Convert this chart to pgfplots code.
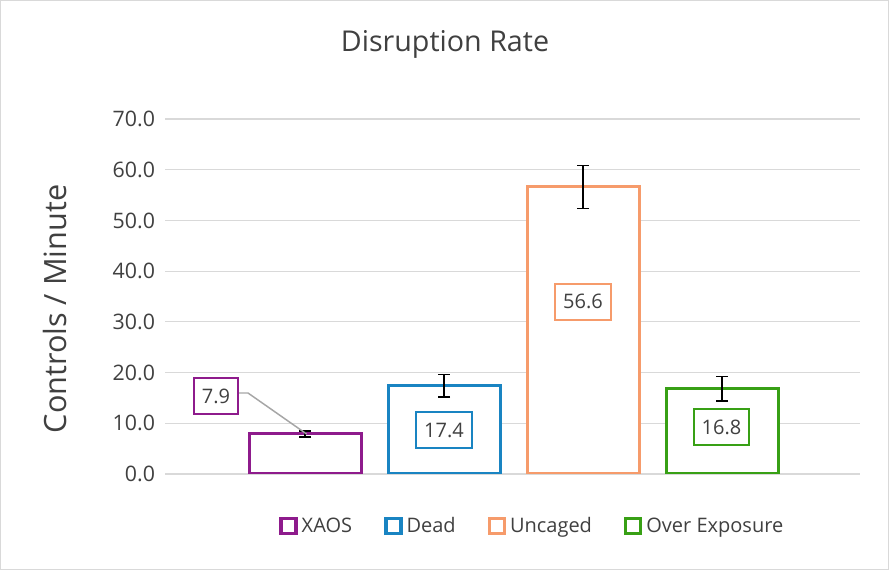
\documentclass[border=0pt]{standalone}
\usepackage{pgfplots}
\pgfplotsset{compat=1.18}
\usepackage{fontspec}
\setmainfont{Open Sans}
\definecolor{cxaos}{HTML}{8E1B8C}
\definecolor{cdead}{HTML}{1984C2}
\definecolor{cuncaged}{HTML}{F69B6B}
\definecolor{cover}{HTML}{38A015}
\definecolor{textgray}{HTML}{404040}
\definecolor{gridgray}{HTML}{D9D9D9}
\begin{document}
\begin{tikzpicture}[x=0.75pt,y=0.75pt]
% chart area, in pixels of the reference (y measured from the bottom)
\draw[draw=gridgray, fill=white, line width=0.75pt] (0.5,0.5) rectangle (888.5,569.5);
\node[text=textgray, font=\fontsize{21.5}{25}\selectfont] at (445,526) {Disruption Rate};
\node[rotate=90, text=textgray, font=\fontsize{23}{27}\selectfont] at (55,261) {Controls / Minute};
\begin{axis}[
    at={(123.75pt,72pt)}, anchor=south west,
    scale only axis, width=521.25pt, height=266.25pt,
    xmin=0, xmax=695, ymin=0, ymax=70,
    ytick={0,10,...,70}, xtick=\empty,
    axis line style={draw=none}, major tick length=0pt,
    ymajorgrids, grid style={gridgray, line width=0.9pt},
    yticklabel style={font=\fontsize{16}{19}\selectfont, text=textgray, xshift=-4pt,
        /pgf/number format/fixed, /pgf/number format/fixed zerofill,
        /pgf/number format/precision=1, /pgf/number format/assume math mode=true},
    ybar, bar width=112, bar shift=0pt,
    every axis plot/.append style={fill=white, line width=2.25pt},
    legend columns=4,
    legend style={at={(0.529,-0.1465)}, anchor=center, draw=none, fill=none,
        font=\fontsize{15}{18}\selectfont, text=textgray,
        /tikz/every odd column/.append style={column sep=1pt},
        /tikz/every even column/.append style={column sep=22pt}},
    legend image code/.code={\draw[#1, line width=2.6pt] (0pt,-5.6pt) rectangle (11.2pt,5.6pt);},
    error bars/error bar style={black, line width=1.1pt},
    error bars/error mark options={black, line width=1.1pt, mark size=4.5pt, rotate=90},
]
\addplot[draw=cxaos, error bars/.cd, y dir=both, y explicit]
    coordinates {(140,7.9) +- (0,0.6)};
\addplot[draw=cdead, error bars/.cd, y dir=both, y explicit]
    coordinates {(279,17.4) +- (0,2.2)};
\addplot[draw=cuncaged, error bars/.cd, y dir=both, y explicit]
    coordinates {(418,56.6) +- (0,4.2)};
\addplot[draw=cover, error bars/.cd, y dir=both, y explicit]
    coordinates {(557,16.8) +- (0,2.4)};
\legend{XAOS, Dead, Uncaged, Over Exposure}
% data labels
\tikzset{dlab/.style={draw=#1, fill=white, line width=1.5pt, text=textgray,
    font=\fontsize{15}{18}\selectfont, minimum height=27pt, inner xsep=6pt}}
\draw[gray!70, line width=1.1pt] (axis cs:74,15.97) -- (axis cs:83,15.97) -- (axis cs:141.5,7.9);
\node[dlab=cxaos] at (axis cs:51,15.38) {7.9};
\node[dlab=cdead] at (axis cs:279,8.68) {17.4};
\node[dlab=cuncaged] at (axis cs:418,34.0) {56.6};
\node[dlab=cover] at (axis cs:556.5,9.17) {16.8};
\end{axis}
\end{tikzpicture}
\end{document}
